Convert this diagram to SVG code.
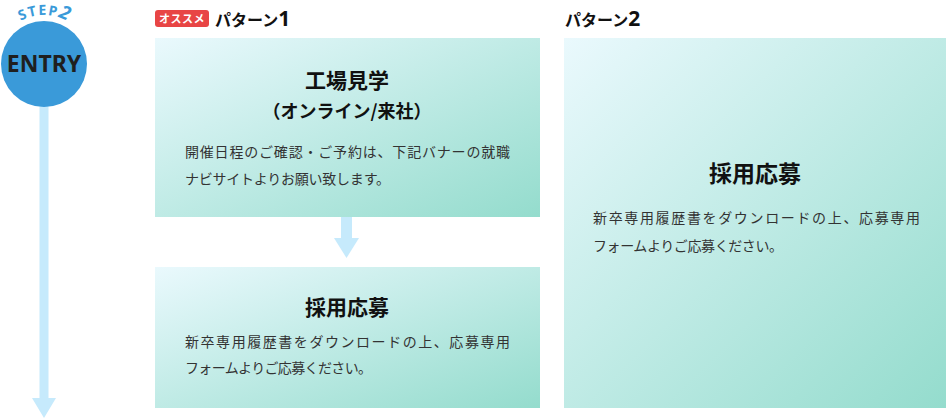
<svg xmlns="http://www.w3.org/2000/svg" xmlns:xlink="http://www.w3.org/1999/xlink" width="948" height="418" viewBox="0 0 948 418">
<style>
.jp{font-family:"Noto Sans CJK JP","Noto Sans",sans-serif}
.ttl{font-family:"Noto Sans CJK JP",sans-serif;font-weight:700;fill:#111;text-anchor:middle}
.body{font-family:"Noto Sans CJK JP",sans-serif;font-size:14px;fill:#333}
.hd{font-family:"Noto Sans CJK JP",sans-serif;font-weight:700;fill:#111}
.arrow{fill:#c6eafc}
</style>
<defs>
<linearGradient id="g" x1="0" y1="0" x2="1" y2="1">
<stop offset="0" stop-color="#eaf9fd"/>
<stop offset="1" stop-color="#94dccd"/>
</linearGradient>
<path id="arc" d="M -5 64 A 49 49 0 0 1 93 64"/>
</defs>
<g id="connectors">
<path class="arrow" d="M39.5 100 H48.5 V398 H56 L44 418 L32 398 H39.5 Z"/>
<path class="arrow" d="M341 217 H352 V238 H359 L346.5 258 L334 238 H341 Z"/>
</g>
<g id="step">
<circle cx="44" cy="64" r="43" fill="#3a9ad9"/>
<text x="44" y="72" text-anchor="middle" style="font-family:'Noto Sans','DejaVu Sans',sans-serif;font-weight:700;font-size:23px;fill:#1f1f1f">ENTRY</text>
<text style="font-family:'Noto Sans',sans-serif;font-weight:700;fill:#3a9ad9"><textPath xlink:href="#arc" startOffset="50%" text-anchor="middle"><tspan font-size="14" letter-spacing="1.5">STEP</tspan><tspan font-size="19" font-style="italic">2</tspan></textPath></text>
</g>
<g id="header1">
<rect x="155" y="10" width="54" height="17" rx="3" fill="#e84545"/>
<text x="182" y="23" text-anchor="middle" class="jp" style="font-size:11px;font-weight:700;fill:#fff;letter-spacing:0.5px">オススメ</text>
<text x="215" y="26" class="hd" style="font-size:16px">パターン<tspan style="font-family:'Noto Sans',sans-serif;font-size:21px">1</tspan></text>
</g>
<g id="header2">
<text x="565" y="26" class="hd" style="font-size:16px">パターン<tspan style="font-family:'Noto Sans',sans-serif;font-size:21px">2</tspan></text>
</g>
<g id="node1">
<rect x="155" y="38" width="385" height="179" fill="url(#g)"/>
<text x="347" y="88" class="ttl" style="font-size:21px">工場見学</text>
<text x="347" y="118" class="ttl" style="font-size:18px">（オンライン/来社）</text>
<text x="185" y="157" class="body" textLength="325" lengthAdjust="spacing">開催日程のご確認・ご予約は、下記バナーの就職</text>
<text x="185" y="184" class="body" textLength="205" lengthAdjust="spacing">ナビサイトよりお願い致します。</text>
</g>
<g id="node2">
<rect x="155" y="267" width="385" height="141" fill="url(#g)"/>
<text x="347" y="315" class="ttl" style="font-size:21px">採用応募</text>
<text x="185" y="347" class="body" textLength="325" lengthAdjust="spacing">新卒専用履歴書をダウンロードの上、応募専用</text>
<text x="185" y="373" class="body" textLength="187" lengthAdjust="spacing">フォームよりご応募ください。</text>
</g>
<g id="node3">
<rect x="564" y="38" width="382" height="370" fill="url(#g)"/>
<text x="755" y="182" class="ttl" style="font-size:23px">採用応募</text>
<text x="593" y="223" class="body" textLength="327" lengthAdjust="spacing">新卒専用履歴書をダウンロードの上、応募専用</text>
<text x="593" y="251" class="body" textLength="190" lengthAdjust="spacing">フォームよりご応募ください。</text>
</g>
</svg>
